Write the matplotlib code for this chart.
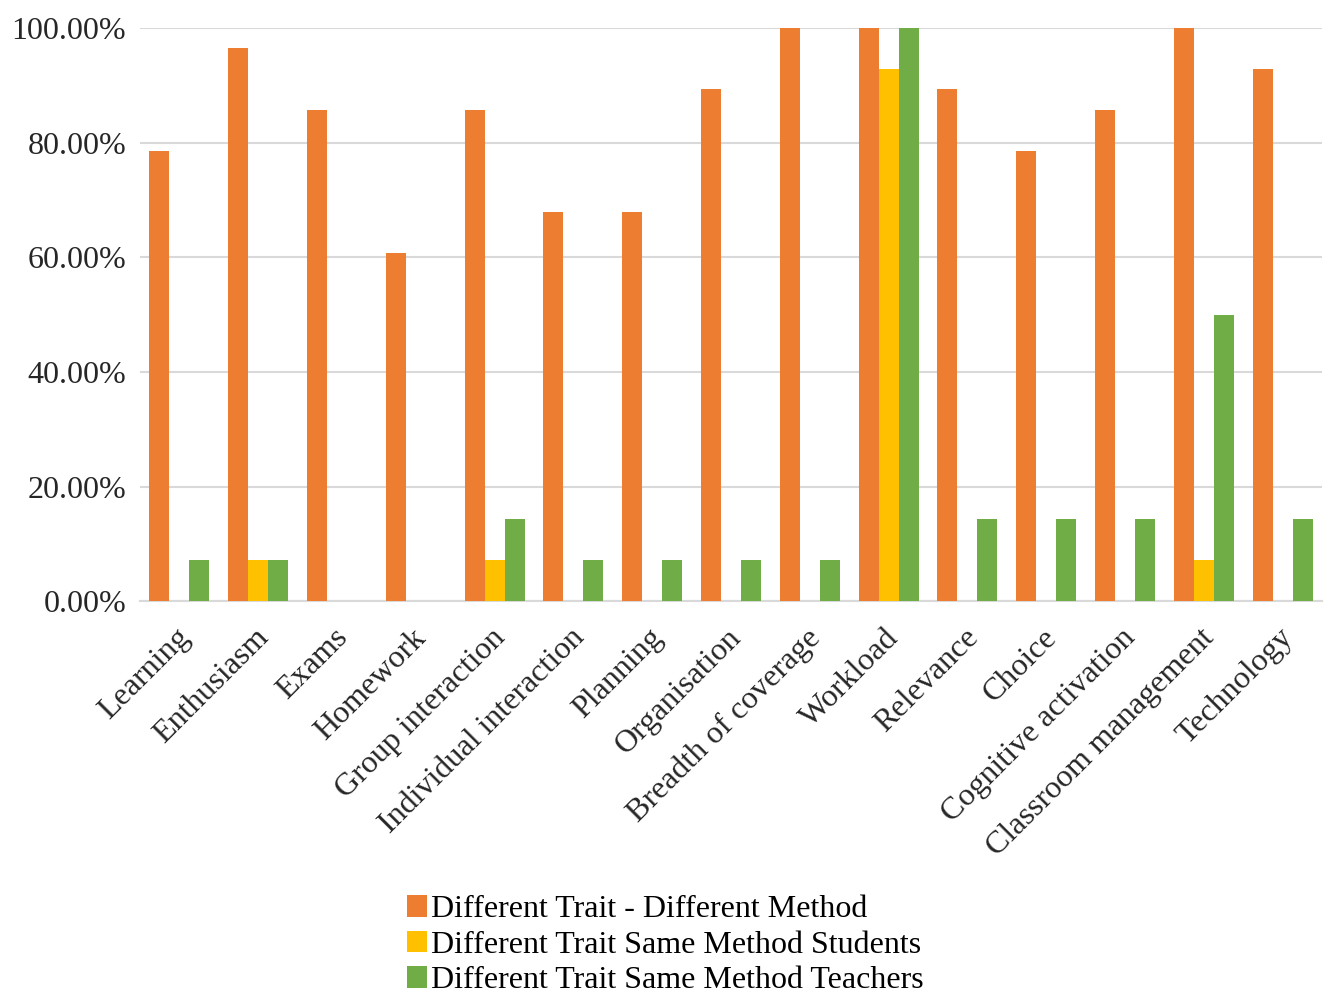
import numpy as np
import matplotlib
matplotlib.use("Agg")
import matplotlib.pyplot as plt
import matplotlib.transforms as mtransforms
from matplotlib.ticker import FuncFormatter

# ── Data ──────────────────────────────────────────────────────────────────────
categories = ["Learning", "Enthusiasm", "Exams", "Homework", "Group interaction",
              "Individual interaction", "Planning", "Organisation", "Breadth of coverage",
              "Workload", "Relevance", "Choice", "Cognitive activation",
              "Classroom management", "Technology"]

diff_trait_diff_method = [78.57, 96.43, 85.71, 60.71, 85.71, 67.86, 67.86, 89.29,
                          100.0, 100.0, 89.29, 78.57, 85.71, 100.0, 92.86]
same_method_students = [0.0, 7.14, 0.0, 0.0, 7.14, 0.0, 0.0, 0.0,
                        0.0, 92.86, 0.0, 0.0, 0.0, 7.14, 0.0]
same_method_teachers = [7.14, 7.14, 0.0, 0.0, 14.29, 7.14, 7.14, 7.14,
                        7.14, 100.0, 14.29, 14.29, 14.29, 50.0, 14.29]

series_labels = ["Different Trait - Different Method",
                 "Different Trait Same Method Students",
                 "Different Trait Same Method Teachers"]
colors = ["#ED7D31", "#FFC000", "#70AD47"]

plt.rcParams["font.family"] = ["Liberation Serif", "DejaVu Serif"]
FS = 23

fig = plt.figure(figsize=(13.3, 9.97), dpi=100)
ax = fig.add_axes([0.1053, 0.397, 0.8887, 0.575])

x = np.arange(len(categories))
w = 0.254
for i, (vals, lab, col) in enumerate(zip(
        [diff_trait_diff_method, same_method_students, same_method_teachers],
        series_labels, colors)):
    ax.bar(x + (i - 1) * w, np.array(vals) / 100, width=w, color=col,
           label=lab, zorder=3)

ax.set_xlim(-0.5, len(categories) - 0.5)
ax.set_ylim(0, 1.0)
ax.set_yticks(np.arange(0, 1.01, 0.2))
ax.yaxis.set_major_formatter(FuncFormatter(lambda v, _: f"{v*100:.2f}%"))
ax.grid(axis="y", color="#d9d9d9", lw=1.5, zorder=0)
for s in ["top", "right", "left"]:
    ax.spines[s].set_visible(False)
ax.spines["bottom"].set_color("#d9d9d9")
ax.spines["bottom"].set_linewidth(1.5)
ax.tick_params(axis="both", length=0, labelsize=FS, colors="#262626")
ax.tick_params(axis="y", pad=10)
ax.tick_params(axis="x", pad=8)

ax.set_xticks(x)
ax.set_xticklabels(categories, rotation=45, ha="right", va="top",
                   rotation_mode="anchor", fontsize=FS)
# nudge the rotated labels left and down a little
shift = mtransforms.ScaledTranslation(-4 / 100, -11 / 100, fig.dpi_scale_trans)
for lbl in ax.get_xticklabels():
    lbl.set_transform(lbl.get_transform() + shift)

fig.legend(loc="upper center", bbox_to_anchor=(0.5, 0.118), ncol=1,
           frameon=False, fontsize=FS, handlelength=0.65, handleheight=0.65,
           handletextpad=0.1, labelspacing=0.2, borderpad=0)

fig.savefig("out.png", dpi=100)
